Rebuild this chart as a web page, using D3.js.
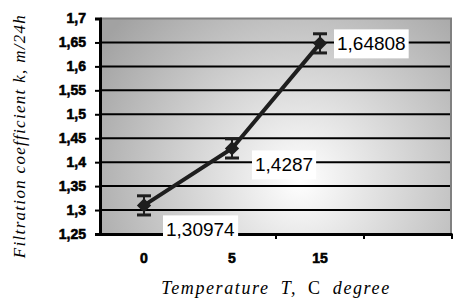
<html>
<head>
<script src="https://d3js.org/d3.v7.min.js"></script>
<style>
body { margin: 0; background: #fff; }
svg { display: block; }
</style>
</head>
<body>
<div id="chart"></div>
<script>
// data
var categories = ["0", "5", "15", ""];
var temps = ["0", "5", "15"];
var values = [1.30974, 1.4287, 1.64808];
var errors = [0.02, 0.02, 0.02];
var yTicks = [1.25, 1.3, 1.35, 1.4, 1.45, 1.5, 1.55, 1.6, 1.65, 1.7];

// label placement relative to each point (dx, dy of baseline)
var labelOffsets = [[22, 31], [23, 23], [17, 7]];

const W = 454, H = 302;
const pLeft = 100, pRight = 452, pTop = 18.5, pBottom = 234;
const ink = "#1e1e1e";
const SANS = "'Liberation Sans', Arial, sans-serif";
const SERIF = "'Liberation Serif', 'Times New Roman', serif";

var svg = d3.select("#chart").append("svg")
    .attr("width", W).attr("height", H);

var x = d3.scaleBand().domain(categories).range([pLeft, pRight]);
var y = d3.scaleLinear().domain([1.25, 1.7]).range([pBottom, pTop]);

var fmt = function (d) { return String(+d.toFixed(5)).replace(".", ","); };

// background gradient
var defs = svg.append("defs");
var grad = defs.append("radialGradient")
    .attr("id", "bg")
    .attr("gradientUnits", "userSpaceOnUse")
    .attr("cx", 300).attr("cy", 180).attr("r", 240);
grad.append("stop").attr("offset", "0%").attr("stop-color", "#ffffff");
grad.append("stop").attr("offset", "100%").attr("stop-color", "#a2a2a2");

svg.append("rect")
    .attr("x", pLeft).attr("y", pTop)
    .attr("width", pRight - pLeft).attr("height", pBottom - pTop)
    .attr("fill", "url(#bg)");

// grey frame top & right
svg.append("path")
    .attr("d", "M" + pLeft + "," + pTop + "H" + (pRight - 1) + "V" + pBottom)
    .attr("fill", "none")
    .attr("stroke", "#808080")
    .attr("stroke-width", 2);

// gridlines
svg.selectAll(".grid")
    .data(yTicks.slice(1, -1))
    .enter().append("line")
    .attr("x1", pLeft).attr("x2", pRight - 2)
    .attr("y1", function (d) { return y(d); })
    .attr("y2", function (d) { return y(d); })
    .attr("stroke", "#000")
    .attr("stroke-width", 2);

// y axis
var yAxis = svg.append("g")
    .attr("transform", "translate(" + pLeft + ",0)")
    .call(d3.axisLeft(y).tickValues(yTicks).tickSize(5).tickPadding(9)
        .tickFormat(function (d) { return String(+d.toFixed(2)).replace(".", ","); }));
yAxis.attr("font-family", null).attr("font-size", null);
yAxis.select(".domain").attr("stroke", "#000").attr("stroke-width", 3);
yAxis.selectAll(".tick line").attr("stroke", "#000").attr("stroke-width", 2);
yAxis.selectAll("text")
    .style("font-family", SANS)
    .style("font-weight", "bold")
    .style("font-size", "14px")
    .attr("fill", "#000")
    .attr("stroke", "#000").attr("stroke-width", 0.6);

// x axis
var xAxis = svg.append("g")
    .attr("transform", "translate(0," + pBottom + ")")
    .call(d3.axisBottom(x).tickSize(0).tickPadding(19));
xAxis.attr("font-family", null).attr("font-size", null);
xAxis.select(".domain").attr("stroke", "#000").attr("stroke-width", 3);
xAxis.selectAll("text")
    .style("font-family", SANS)
    .style("font-weight", "bold")
    .style("font-size", "14px")
    .attr("fill", "#000")
    .attr("stroke", "#000").attr("stroke-width", 0.6);

// x tick marks between categories
svg.selectAll(".xtick")
    .data(categories)
    .enter().append("line")
    .attr("x1", function (d) { return x(d) + x.bandwidth(); })
    .attr("x2", function (d) { return x(d) + x.bandwidth(); })
    .attr("y1", pBottom).attr("y2", pBottom + 5)
    .attr("stroke", "#000")
    .attr("stroke-width", 2);

var pts = temps.map(function (t, i) {
    return { t: t, v: values[i], e: errors[i], off: labelOffsets[i] };
});
var cx = function (d) { return x(d.t) + x.bandwidth() / 2; };

// line
svg.append("path")
    .datum(pts)
    .attr("d", d3.line().x(cx).y(function (d) { return y(d.v); }))
    .attr("fill", "none")
    .attr("stroke", ink)
    .attr("stroke-width", 4);

// error bars
var eb = svg.selectAll(".err").data(pts).enter().append("g");
eb.append("line")
    .attr("x1", cx).attr("x2", cx)
    .attr("y1", function (d) { return y(d.v + d.e); })
    .attr("y2", function (d) { return y(d.v - d.e); })
    .attr("stroke", ink).attr("stroke-width", 2);
eb.selectAll(".cap")
    .data(function (d) { return [[d, d.v + d.e], [d, d.v - d.e]]; })
    .enter().append("line")
    .attr("x1", function (d) { return cx(d[0]) - 7; })
    .attr("x2", function (d) { return cx(d[0]) + 7; })
    .attr("y1", function (d) { return y(d[1]); })
    .attr("y2", function (d) { return y(d[1]); })
    .attr("stroke", ink).attr("stroke-width", 3);

// diamond markers
svg.selectAll(".mark").data(pts).enter().append("path")
    .attr("transform", function (d) { return "translate(" + cx(d) + "," + y(d.v) + ")"; })
    .attr("d", d3.symbol().type(d3.symbolDiamond2).size(130))
    .attr("fill", ink);

// data labels with white boxes
var lab = svg.selectAll(".lab").data(pts).enter().append("g");
lab.append("rect").attr("fill", "#fff");
lab.append("text")
    .attr("x", function (d) { return cx(d) + d.off[0]; })
    .attr("y", function (d) { return y(d.v) + d.off[1]; })
    .style("font-family", SANS)
    .style("font-size", "19px")
    .attr("fill", "#000")
    .text(function (d) { return fmt(d.v); });
lab.each(function () {
    var g = d3.select(this);
    var b = g.select("text").node().getBBox();
    g.select("rect")
        .attr("x", b.x - 3).attr("y", b.y - 4)
        .attr("width", b.width + 6).attr("height", b.height + 8);
});

// axis titles
svg.append("text")
    .attr("transform", "translate(25,136) rotate(-90)")
    .attr("text-anchor", "middle")
    .style("font-family", SERIF)
    .style("font-style", "italic")
    .style("font-size", "17px")
    .style("letter-spacing", "1.3px")
    .attr("fill", "#000")
    .text("Filtration coefficient k, m/24h");

var xt = svg.append("text")
    .attr("x", 276).attr("y", 294)
    .attr("text-anchor", "middle")
    .style("font-family", SERIF)
    .style("font-size", "18px")
    .style("letter-spacing", "1.6px")
    .style("word-spacing", "5px")
    .attr("fill", "#000");
xt.append("tspan").style("font-style", "italic").text("Temperature T, ");
xt.append("tspan").text("C ");
xt.append("tspan").style("font-style", "italic").text("degree");
</script>
</body>
</html>
